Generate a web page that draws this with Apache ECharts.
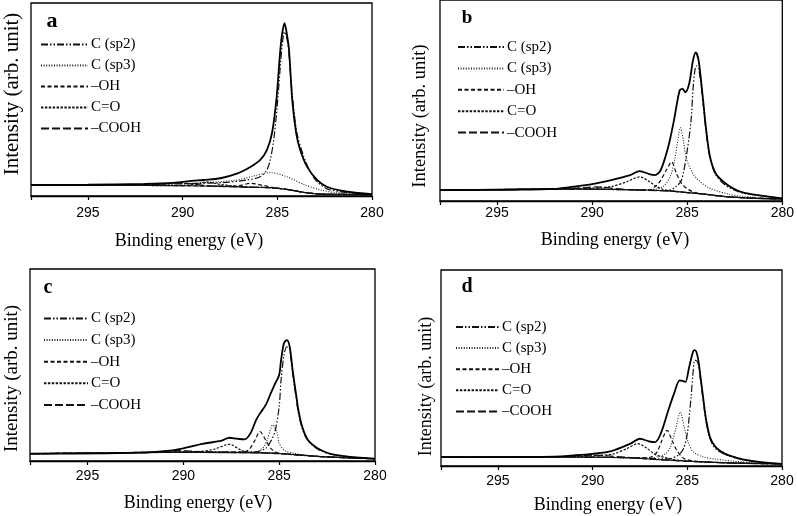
<!DOCTYPE html>
<html>
<head>
<meta charset="utf-8">
<script src="https://cdn.jsdelivr.net/npm/echarts@6/dist/echarts.min.js"></script>
<style>
html,body{margin:0;padding:0;background:#fff;}
#chart{width:797px;height:516px;}
</style>
</head>
<body>
<div id="chart"></div>
<script>
// ---- data: [binding energy (eV), intensity (% of panel height)] ----
const xTicks = [280, 285, 290, 295];
const componentNames = ['C (sp2)', 'C (sp3)', '–OH', 'C=O', '–COOH'];
const panelLetters = ['a', 'b', 'c', 'd'];

// panel a
const aEnvelope = [[298,5.7],[295,5.9],[292,6.3],[290.5,6.8],[289.5,7.8],[288.9,8.3],[288,9.2],[287.1,11.7],[286.4,15.2],[285.9,18.7],[285.55,23.8],[285.28,32.5],[285.05,49.7],[284.84,75.6],[284.74,84.3],[284.62,89.5],[284.5,84.3],[284.38,75.6],[284.21,49.7],[284.0,32.5],[283.79,23.8],[283.43,15.2],[282.9,8.3],[282.38,4.8],[281.3,2.2],[280,1.0]];
const aSp2 = [[298,5.7],[292,6.0],[288,6.9],[286.6,8.3],[285.9,10],[285.55,13.5],[285.37,18.7],[285.19,29],[285.02,44.6],[284.84,67],[284.72,80],[284.62,85.1],[284.5,82],[284.4,75.6],[284.23,54.9],[283.96,32.5],[283.6,20.4],[283.26,12.6],[282.9,7.4],[282.2,3.1],[280,1.0]];
const aSp3 = [[298,5.7],[292,6.0],[290.65,6.2],[288.9,6.9],[287.1,8.3],[286.2,10.5],[285.37,12.1],[284.5,10],[283.6,6.0],[282.7,3.1],[281.85,1.7],[280,1.0]];
const aOH = [[298,5.7],[290,5.4],[288,5.1],[287,5.4],[286.4,6.6],[285.8,5.6],[285.2,4.4],[284.5,3.4],[283.6,1.9],[282.7,1.0],[280,0.7]];
const aCO = [[298,5.7],[290,5.4],[289.2,6.4],[288.7,7.3],[288.2,6.3],[287.2,5.0],[286.5,4.6],[285.4,4.3],[284.5,3.4],[283.6,1.9],[282.7,1.0],[280,0.7]];
const aCOOH = [[298,5.7],[292,5.7],[290.8,6.4],[290.2,6.8],[289.5,6.2],[288.5,5.2],[286.5,4.6],[285.4,4.3],[284.5,3.4],[283.6,1.9],[282.7,1.0],[280,0.7]];
const aBackground = [[298,5.7],[294,5.6],[290,5.3],[288,5.0],[286.5,4.6],[285.4,4.3],[284.5,3.4],[283.6,1.9],[282.7,1.0],[281,0.8],[280,0.7]];

// panel b
const bEnvelope = [[298,5.4],[294,5.6],[292,6.0],[291,7.1],[290,8.4],[289,10.4],[288,12.9],[287.5,14.9],[287,13.4],[286.7,12.9],[286.4,15.3],[286,26.9],[285.7,40],[285.4,55],[285.25,55.8],[285.1,54.1],[284.9,58.3],[284.7,69.8],[284.55,73.9],[284.4,69.8],[284.2,53.3],[284,35.1],[283.8,21.9],[283.5,13.7],[283,8.8],[282.5,5.8],[282,4.1],[281,2.5],[280,1.3]];
const bSp2 = [[298,5.4],[292,5.9],[288,5.6],[286,5.2],[285.6,7.1],[285.3,10.4],[285,25.2],[284.8,40],[284.7,55],[284.6,64.9],[284.52,67.3],[284.4,66],[284.2,51.6],[284,33.6],[283.8,21.3],[283.5,12.9],[283,7.9],[282.5,5.4],[282,3.8],[281,2.5],[280,1.3]];
const bSp3 = [[298,5.4],[290,5.9],[287,5.6],[286.3,7.0],[285.9,12],[285.65,21],[285.5,30],[285.36,36.5],[285.2,30],[285.04,21],[284.7,13.7],[284.35,9.8],[283.8,6.3],[282.9,3.6],[282,2.2],[280,1.2]];
const bOH = [[298,5.4],[290,5.9],[288,5.6],[287,5.4],[286.7,7.1],[286.45,9.5],[286.1,15.3],[285.82,19.5],[285.57,13.7],[285.3,8.8],[284.96,5.8],[284.5,4.0],[284,3.3],[283,2.2],[282,1.6],[280,1.0]];
const bCO = [[298,5.4],[291,6.1],[289.6,6.6],[288.9,7.4],[288.2,9.5],[287.5,12],[286.97,9.5],[286.6,7.1],[286.27,5.8],[285.5,4.7],[285,4.2],[284,3.3],[283,2.2],[282,1.6],[280,1.0]];
const bCOOH = [[298,5.4],[292,6.0],[290.5,6.6],[289.8,7.0],[289,6.4],[288,5.6],[286,5.0],[285,4.2],[284,3.3],[283,2.2],[282,1.6],[281,1.2],[280,1.0]];
const bBackground = [[298,5.4],[292,6.0],[290,5.9],[288,5.6],[286,5.0],[285,4.2],[284,3.3],[283,2.2],[282,1.6],[281,1.2],[280,1.0]];

// panel c
const cEnvelope = [[298,3.8],[294,4.0],[292,4.5],[290.7,5.4],[290,6.6],[289,8.9],[288,10.6],[287.6,12.1],[287.2,11.6],[286.8,11.3],[286.5,14.4],[286.2,21.4],[286,24.8],[285.7,29.2],[285.4,36.1],[285.2,40.5],[285,44.8],[284.9,52.6],[284.75,61.3],[284.6,63.0],[284.45,59.5],[284.3,47.4],[284.1,33.5],[284,26.6],[283.8,17.9],[283.5,10.9],[283,6.6],[282.5,4.3],[282,3.1],[281,1.9],[280,1.2]];
const cSp2 = [[298,3.8],[292,4.4],[289,4.8],[287,4.7],[286.2,4.8],[285.7,6.6],[285.4,10.9],[285.2,16.1],[285,28.3],[284.9,42.2],[284.75,55],[284.6,59.5],[284.45,58],[284.3,45.7],[284.1,31.8],[284,25.2],[283.8,17],[283.5,10.6],[283,6.3],[282.5,4],[282,3],[281,1.9],[280,1.2]];
const cSp3 = [[298,3.8],[290,4.6],[287,4.5],[286.3,4.8],[286.05,5.4],[285.8,7.4],[285.6,11.8],[285.33,18.8],[285.1,14.4],[285,9.2],[284.7,5.4],[284.2,4],[283.7,3.1],[282.5,2.2],[280,1.2]];
const cOH = [[298,3.8],[290,4.6],[287,4.6],[286.6,5.7],[286.3,10.1],[286,15.3],[285.7,10.9],[285.44,6.6],[285.1,4.3],[284.5,3.5],[283,2.4],[281,1.5],[280,1.2]];
const cCO = [[298,3.8],[291,4.5],[289.8,4.8],[289.1,5],[288.4,6.1],[287.6,8.7],[287,5.7],[286.7,4.7],[286,4.4],[285,3.9],[284,3.2],[283,2.4],[281,1.5],[280,1.2]];
const cCOOH = [[298,3.8],[292,4.4],[291,5.0],[290.2,5.4],[289.4,5.0],[288.5,4.6],[287,4.4],[286,4.2],[285,3.9],[284,3.2],[283,2.4],[282,1.9],[281,1.5],[280,1.2]];
const cBackground = [[298,3.8],[292,4.4],[290,4.5],[288,4.4],[286,4.2],[285,3.9],[284,3.2],[283,2.4],[282,1.9],[281,1.5],[280,1.2]];

// panel d
const dEnvelope = [[298,4.5],[294,4.6],[292,4.8],[291,5.4],[290,6.2],[289,7.6],[288,11.4],[287.5,13.9],[287,12.5],[286.7,12.2],[286.4,16.5],[286,28.4],[285.7,36.9],[285.4,43.7],[285.25,43.4],[285.1,42.9],[284.9,50.5],[284.7,58.2],[284.6,59.1],[284.45,55.7],[284.3,45.4],[284.1,30.1],[284,23.3],[283.8,14.7],[283.5,9.6],[283,6.2],[282.5,4.5],[282,3.2],[281,1.8],[280,1.1]];
const dSp2 = [[298,4.5],[292,4.5],[288,4.2],[286,3.6],[285.5,5.4],[285.2,8.8],[285,16.5],[284.9,25],[284.8,35.2],[284.7,47],[284.6,54],[284.45,53.1],[284.3,43.7],[284.1,28.7],[284,22.4],[283.8,13.9],[283.5,8.8],[283,5.9],[282.5,4.3],[282,3.1],[281,1.8],[280,1.1]];
const dSp3 = [[298,4.5],[290,4.6],[287,4.0],[286.16,6.2],[285.9,9.6],[285.63,18.2],[285.37,27.5],[285.16,19.8],[284.93,11.4],[284.67,7.1],[284.14,4.6],[283.43,3.4],[282.5,2.4],[281,1.5],[280,1.1]];
const dOH = [[298,4.5],[290,4.6],[287.5,4.2],[286.9,4.6],[286.6,7.1],[286.34,13],[286.07,18.2],[285.8,13],[285.55,7.9],[285.2,4.0],[284.67,2.6],[283,1.7],[280,1.1]];
const dCO = [[298,4.5],[291,4.8],[289.6,5.4],[288.9,6.2],[288.2,8.8],[287.6,11.4],[287.1,8.8],[286.7,5.9],[286.25,4.5],[285.5,3],[284.67,2.3],[282.9,1.6],[280,1.1]];
const dCOOH = [[298,4.5],[292,4.7],[290.8,5.3],[290,5.6],[289.2,5.2],[288.2,4.4],[286.4,3.2],[284.67,2.3],[282.9,1.6],[281,1.2],[280,1.1]];
const dBackground = [[298,4.5],[292,4.6],[290,4.5],[288.2,4.2],[286.4,3.2],[284.67,2.3],[282.9,1.6],[281,1.2],[280,1.1]];

const panelData = [
  [aEnvelope, aSp2, aSp3, aOH, aCO, aCOOH, aBackground],
  [bEnvelope, bSp2, bSp3, bOH, bCO, bCOOH, bBackground],
  [cEnvelope, cSp2, cSp3, cOH, cCO, cCOOH, cBackground],
  [dEnvelope, dSp2, dSp3, dOH, dCO, dCOOH, dBackground]
];

// ---- layout ----
const grids = [
  {left: 31, top: 3, width: 341, height: 193},
  {left: 440, top: -1, width: 345, height: 202},
  {left: 30, top: 269, width: 345, height: 192},
  {left: 441, top: 270, width: 341, height: 196}
];
const labelMargins = [10, 5, 8, 8];
const legendPos = [
  {left: 40, top: 37, itemWidth: 47, gap: 6},
  {left: 457, top: 39.5, itemWidth: 46, gap: 6.4},
  {left: 43, top: 311, itemWidth: 44, gap: 6.6},
  {left: 455, top: 319.5, itemWidth: 43, gap: 6.1}
];
const yNamePos = [[12, 94, 21], [420, 116, 18.5], [12, 378.5, 19], [426.5, 386.5, 18]];
const xNamePos = [[189, 241.5], [615, 240], [198, 503], [608, 505]];
const letterPos = [[52, 21, 22], [467, 18.5, 19], [48, 287.5, 20], [467, 286.5, 20]];

const SERIF = '"Liberation Serif", "Times New Roman", serif';
const SANS = '"Liberation Sans", Arial, sans-serif';

const compStyles = [
  {type: 'solid', width: 1.8, color: '#000'},           // envelope
  {type: [7, 2, 1.5, 2, 1.5, 2], width: 1.2, color: '#111'}, // sp2
  {type: [1, 1.6], width: 1.1, color: '#222'},          // sp3
  {type: [4, 2.5], width: 1.2, color: '#111'},          // OH
  {type: [2.4, 1.5], width: 1.2, color: '#111'},        // C=O
  {type: [8, 3], width: 1.3, color: '#111'},            // COOH
  {type: 'solid', width: 1.2, color: '#111'}            // background
];

const option = {
  animation: false,
  backgroundColor: '#fff',
  color: ['#000'],
  grid: [], xAxis: [], yAxis: [], series: [], legend: [], graphic: []
};

grids.forEach((g, i) => {
  option.grid.push(Object.assign({show: true, borderColor: '#000', borderWidth: 1.3, backgroundColor: 'transparent', containLabel: false}, g));
  option.xAxis.push({
    type: 'value', gridIndex: i, min: 280, max: 298, interval: 5, inverse: true,
    axisLine: {show: true, lineStyle: {color: '#000', width: 1.3}},
    axisTick: {show: true, inside: false, length: 4, lineStyle: {color: '#000', width: 1.2}},
    axisLabel: {show: true, margin: labelMargins[i], fontFamily: SANS, fontSize: 14, color: '#000',
      formatter: v => xTicks.indexOf(v) >= 0 ? String(v) : ''},
    splitLine: {show: false}
  });
  option.yAxis.push({type: 'value', gridIndex: i, min: 0, max: 100, show: false});
  const names = ['Envelope ' + panelLetters[i]].concat(componentNames, ['Background ' + panelLetters[i]]);
  panelData[i].forEach((d, k) => {
    option.series.push({
      name: names[k], type: 'line', xAxisIndex: i, yAxisIndex: i, data: d,
      symbol: 'none', showSymbol: false, smooth: 0.3, clip: true,
      itemStyle: {color: '#000'},
      lineStyle: compStyles[k], z: k === 0 ? 5 : 3, silent: true
    });
  });
  const lp = legendPos[i];
  option.legend.push({
    orient: 'vertical', left: lp.left, top: lp.top, padding: 0,
    itemWidth: lp.itemWidth, itemHeight: 14, itemGap: lp.gap,
    selectedMode: false, data: componentNames,
    itemStyle: {opacity: 0, borderWidth: 0},
    textStyle: {fontFamily: SERIF, fontSize: 15, color: '#000', lineHeight: 14, padding: [0, 0, 0, -2]}
  });
  option.graphic.push({
    type: 'text', x: yNamePos[i][0], y: yNamePos[i][1], rotation: Math.PI / 2,
    style: {text: 'Intensity (arb. unit)', font: yNamePos[i][2] + 'px ' + SERIF, fill: '#000', align: 'center', verticalAlign: 'middle'}
  });
  option.graphic.push({
    type: 'text', x: xNamePos[i][0], y: xNamePos[i][1],
    style: {text: 'Binding energy (eV)', font: '18px ' + SERIF, fill: '#000', align: 'center', verticalAlign: 'middle'}
  });
  option.graphic.push({
    type: 'text', x: letterPos[i][0], y: letterPos[i][1],
    style: {text: panelLetters[i], font: 'bold ' + letterPos[i][2] + 'px ' + SERIF, fill: '#000', align: 'center', verticalAlign: 'middle'}
  });
});

const chart = echarts.init(document.getElementById('chart'), null, {renderer: 'canvas'});
chart.setOption(option);
</script>
</body>
</html>
